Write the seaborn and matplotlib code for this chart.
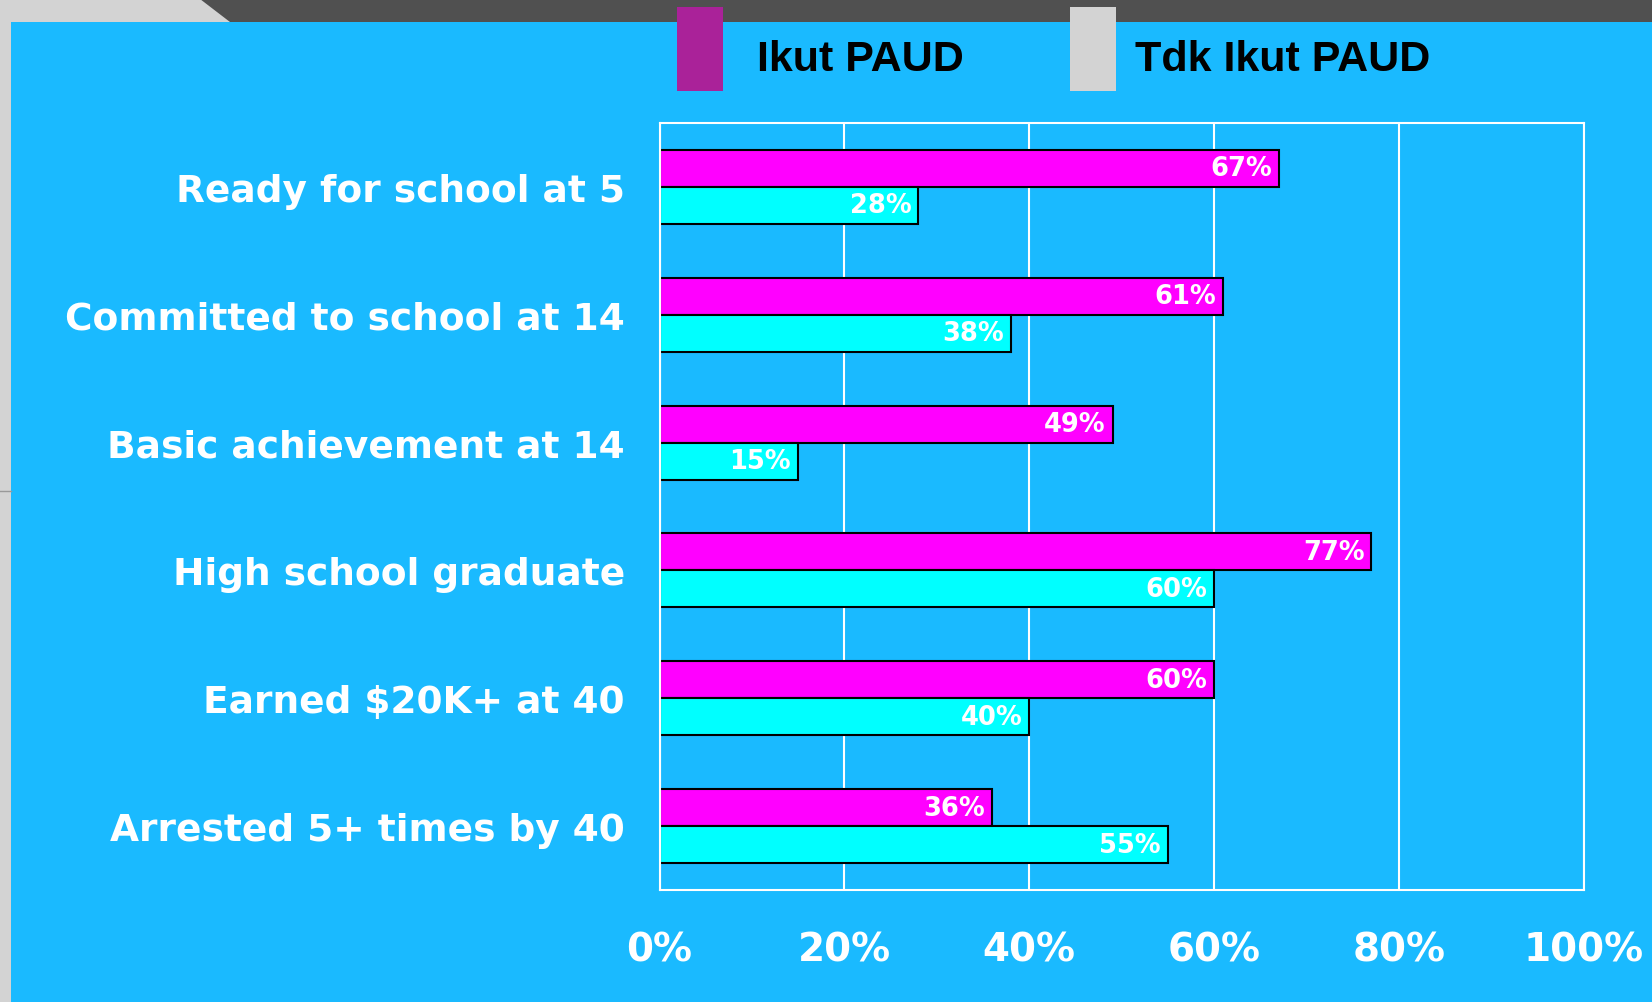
import pandas as pd
import seaborn as sns
import matplotlib.pyplot as plt
from matplotlib.patches import Rectangle, Polygon

# data
categories = ["Ready for school at 5", "Committed to school at 14", "Basic achievement at 14",
              "High school graduate", "Earned $20K+ at 40", "Arrested 5+ times by 40"]
ikut_paud = [67, 61, 49, 77, 60, 36]
tdk_ikut_paud = [28, 38, 15, 60, 40, 55]
series_names = ["Ikut PAUD", "Tdk Ikut PAUD"]
x_ticks = [0, 20, 40, 60, 80, 100]
x_tick_labels = ["0%", "20%", "40%", "60%", "80%", "100%"]

bar_colors = ["#FF00FF", "#00FFFF"]
legend_colors = ["#AA2299", "#D3D3D3"]
bg_blue = "#1ABAFF"

df = pd.DataFrame({
    "category": categories * 2,
    "value": ikut_paud + tdk_ikut_paud,
    "group": [series_names[0]] * len(categories) + [series_names[1]] * len(categories),
})

W, H = 1652, 1003
fig = plt.figure(figsize=(W / 100, H / 100), dpi=100, facecolor="#D3D3D3")

# slide background: grey frame, dark top band, blue panel
bg = fig.add_axes([0, 0, 1, 1], zorder=-5)
bg.set_xlim(0, W)
bg.set_ylim(H, 0)
bg.axis("off")
bg.add_patch(Polygon([(200, 0), (W, 0), (W, 23), (230, 23)], closed=True, color="#505050", lw=0))
bg.add_patch(Rectangle((11, 23), W - 11, H - 23, color=bg_blue, lw=0))
bg.plot([0, 11], [492, 492], color="#999999", lw=1)

# legend boxes + labels (drawn by hand like the slide)
legend_x = [677, 1070]
text_x = [757, 1135]
for i, name in enumerate(series_names):
    bg.add_patch(Rectangle((legend_x[i], 8), 46, 84, color=legend_colors[i], lw=0))
    bg.text(text_x[i], 71, name, fontsize=31, fontweight="bold", color="black",
            family="Liberation Sans", ha="left", va="baseline")

ax = fig.add_axes([659.5 / W, 112 / H, 924.5 / W, 767 / H])
ax.set_facecolor("none")
sns.barplot(data=df, y="category", x="value", hue="group", orient="h",
            palette=bar_colors, edgecolor="black", linewidth=1.5, width=0.58,
            saturation=1, legend=False, ax=ax)

# value labels inside bar ends
for cont in ax.containers:
    for p in cont:
        v = p.get_width()
        ax.annotate(f"{v:.0f}%", (p.get_x() + v, p.get_y() + p.get_height() / 2),
                    xytext=(-5, 0), textcoords="offset points", ha="right", va="center",
                    fontsize=18.5, fontweight="bold", color="white")

ax.set_xlim(0, 100)
ax.set_ylim(5.5, -0.5)
ax.set_xticks(x_ticks)
ax.set_xticklabels(x_tick_labels)
ax.set_xlabel("")
ax.set_ylabel("")
ax.grid(axis="x", color="white", linewidth=1.5)
ax.grid(axis="y", visible=False)
ax.set_axisbelow(True)
for s in ax.spines.values():
    s.set_color("white")
    s.set_linewidth(1.5)
ax.tick_params(axis="x", length=0, pad=29, labelsize=28, labelcolor="white")
ax.tick_params(axis="y", length=0, pad=25, labelsize=27, labelcolor="white")
for lab in ax.get_xticklabels() + ax.get_yticklabels():
    lab.set_fontweight("bold")

fig.savefig("out.png", dpi=100, facecolor=fig.get_facecolor())
